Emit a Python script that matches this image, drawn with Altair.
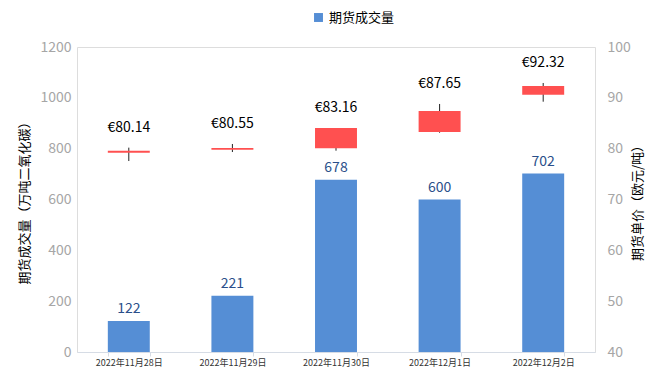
import altair as alt
import pandas as pd

dates = ["2022年11月28日", "2022年11月29日", "2022年11月30日", "2022年12月1日", "2022年12月2日"]
volume = [122, 221, 678, 600, 702]
box_low = [79.2, 79.8, 80.07, 83.28, 90.62]
box_high = [79.6, 80.13, 84.06, 87.41, 92.33]
wick_low = [77.57, 79.34, 79.6, 83.14, 89.24]
wick_high = [80.2, 80.92, 84.06, 88.79, 92.92]
price_label = ["€80.14", "€80.55", "€83.16", "€87.65", "€92.32"]

df = pd.DataFrame({
    "date": dates, "volume": volume,
    "box_low": box_low, "box_high": box_high,
    "wick_low": wick_low, "wick_high": wick_high,
    "price_label": price_label,
    "series": ["期货成交量"] * len(dates),
})

FONT = "Noto Sans CJK SC"

x = alt.X("date:N", sort=dates, title=None,
          scale=alt.Scale(paddingInner=0.595, paddingOuter=0.2975),
          axis=alt.Axis(labelAngle=0, labelFontSize=9, labelColor="#333333",
                        labelFont=FONT, domainColor="#D6DCE5", tickColor="#D6DCE5",
                        tickBand="extent", tickSize=4, labelPadding=2,
                        labelBaseline="top"))

yl = alt.Y("volume:Q", title="期货成交量（万吨二氧化碳）",
           scale=alt.Scale(domain=[0, 1200]),
           axis=alt.Axis(values=[0, 200, 400, 600, 800, 1000, 1200], grid=False,
                         format="d",
                         domain=False, ticks=False, labelColor="#A6A6A6",
                         labelFontSize=14, labelFont=FONT, labelPadding=6,
                         titleFont=FONT, titleFontSize=13, titleFontWeight="normal",
                         titleColor="#000000", titlePadding=8))

bars = alt.Chart(df).mark_bar(color="#558ED5").encode(
    x=x, y=yl,
    color=alt.Color("series:N", title=None,
                    scale=alt.Scale(domain=["期货成交量"], range=["#558ED5"]),
                    legend=alt.Legend(orient="none", legendX=235, legendY=-36,
                                      symbolType="square", symbolSize=80,
                                      labelFont=FONT, labelFontSize=13,
                                      labelColor="#000000", symbolStrokeWidth=0))
)
bar_text = alt.Chart(df).mark_text(font=FONT, fontSize=14, color="#2A4F8A",
                                   baseline="middle", dy=-12).encode(
    x=x, y=alt.Y("volume:Q"), text=alt.Text("volume:Q")
)
left = alt.layer(bars, bar_text)

yr_scale = alt.Scale(domain=[40, 100])
yr = alt.Y("wick_low:Q", title="期货单价（欧元/吨）", scale=yr_scale,
           axis=alt.Axis(orient="right", values=[40, 50, 60, 70, 80, 90, 100],
                         grid=False, domain=False, ticks=False,
                         labelColor="#A6A6A6", labelFontSize=14, labelFont=FONT,
                         labelPadding=12, titleFont=FONT, titleFontSize=13,
                         titleFontWeight="normal", titleColor="#000000",
                         titlePadding=14, titleAngle=-90))

box = alt.Chart(df).mark_bar(color="#FF5050").encode(
    x=x, y=alt.Y("box_low:Q", scale=yr_scale), y2="box_high:Q"
)
wick = alt.Chart(df).mark_rule(color="#222222", strokeWidth=1).encode(
    x=x, y=yr, y2="wick_high:Q"
)
ptext = alt.Chart(df).mark_text(font=FONT, fontSize=14, color="#000000",
                                baseline="middle", dy=-20).encode(
    x=x, y=alt.Y("wick_high:Q", scale=yr_scale), text="price_label:N"
)
right = alt.layer(wick, box, ptext)

chart = alt.layer(left, right).resolve_scale(y="independent").properties(
    width=518, height=305,
    padding={"left": 69, "top": 39, "right": 66, "bottom": 18},
    autosize=alt.AutoSizeParams(type="none"),
).configure_view(stroke=None).configure(background="#FFFFFF")

chart.save("out.html", embed_options={"renderer": "svg", "actions": False})
